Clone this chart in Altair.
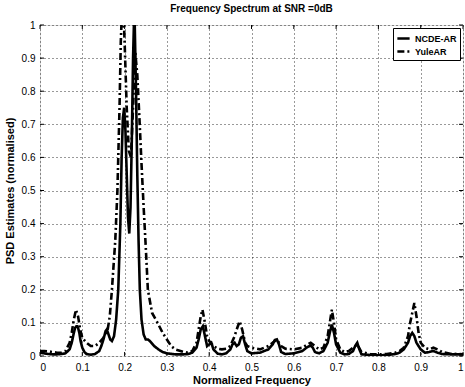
import altair as alt
import pandas as pd

# NCDE-AR (solid)
ncde_f = [0.0, 0.01, 0.02, 0.03, 0.04, 0.05, 0.06, 0.07, 0.075, 0.08, 0.083, 0.086, 0.088, 0.09, 0.093, 0.096, 0.1, 0.105, 0.11, 0.12, 0.13, 0.14, 0.145, 0.15, 0.155, 0.158, 0.162, 0.166, 0.17, 0.175, 0.18, 0.185, 0.19, 0.193, 0.196, 0.199, 0.202, 0.205, 0.208, 0.211, 0.214, 0.217, 0.22, 0.222, 0.224, 0.227, 0.23, 0.233, 0.236, 0.24, 0.245, 0.25, 0.255, 0.26, 0.27, 0.28, 0.29, 0.3, 0.32, 0.34, 0.35, 0.36, 0.37, 0.375, 0.38, 0.385, 0.39, 0.395, 0.4, 0.405, 0.41, 0.42, 0.43, 0.44, 0.45, 0.455, 0.46, 0.465, 0.47, 0.475, 0.48, 0.485, 0.49, 0.5, 0.52, 0.54, 0.55, 0.555, 0.56, 0.565, 0.57, 0.58, 0.6, 0.62, 0.63, 0.64, 0.645, 0.65, 0.66, 0.67, 0.68, 0.685, 0.69, 0.695, 0.7, 0.71, 0.72, 0.73, 0.74, 0.745, 0.75, 0.755, 0.76, 0.78, 0.8, 0.82, 0.84, 0.85, 0.86, 0.87, 0.875, 0.88, 0.885, 0.89, 0.9, 0.91, 0.92, 0.93, 0.94, 0.95, 0.97, 1.0]
ncde_v = [0.01, 0.008, 0.006, 0.005, 0.005, 0.006, 0.008, 0.02, 0.04, 0.07, 0.085, 0.09, 0.09, 0.085, 0.07, 0.045, 0.025, 0.012, 0.006, 0.004, 0.006, 0.015, 0.03, 0.05, 0.075, 0.08, 0.065, 0.05, 0.045, 0.06, 0.11, 0.2, 0.4, 0.6, 0.72, 0.75, 0.68, 0.55, 0.42, 0.37, 0.45, 0.65, 0.9, 1.0, 1.0, 0.8, 0.55, 0.35, 0.2, 0.11, 0.065, 0.05, 0.05, 0.045, 0.03, 0.02, 0.012, 0.008, 0.005, 0.005, 0.006, 0.01, 0.025, 0.05, 0.08, 0.09, 0.06, 0.03, 0.035, 0.04, 0.02, 0.007, 0.005, 0.008, 0.02, 0.035, 0.04, 0.03, 0.035, 0.055, 0.06, 0.035, 0.015, 0.008, 0.01, 0.02, 0.035, 0.048, 0.05, 0.035, 0.012, 0.006, 0.008, 0.015, 0.025, 0.032, 0.025, 0.012, 0.008, 0.015, 0.04, 0.07, 0.095, 0.07, 0.035, 0.01, 0.005, 0.006, 0.015, 0.03, 0.04, 0.02, 0.005, 0.003, 0.002, 0.003, 0.006, 0.01, 0.02, 0.04, 0.06, 0.07, 0.06, 0.04, 0.02, 0.01, 0.012, 0.015, 0.01, 0.006, 0.005, 0.005]

# YuleAR (dash-dot)
yule_f = [0.0, 0.01, 0.02, 0.03, 0.04, 0.05, 0.06, 0.07, 0.075, 0.08, 0.085, 0.09, 0.095, 0.1, 0.11, 0.12, 0.13, 0.14, 0.15, 0.16, 0.165, 0.17, 0.178, 0.183, 0.188, 0.191, 0.194, 0.197, 0.2, 0.205, 0.21, 0.215, 0.22, 0.225, 0.23, 0.235, 0.24, 0.245, 0.25, 0.255, 0.265, 0.278, 0.29, 0.3, 0.31, 0.32, 0.34, 0.35, 0.36, 0.37, 0.375, 0.38, 0.384, 0.39, 0.395, 0.4, 0.41, 0.42, 0.43, 0.44, 0.45, 0.46, 0.465, 0.472, 0.478, 0.485, 0.49, 0.5, 0.52, 0.54, 0.55, 0.56, 0.57, 0.58, 0.6, 0.62, 0.63, 0.64, 0.65, 0.66, 0.67, 0.68, 0.685, 0.69, 0.695, 0.7, 0.71, 0.72, 0.73, 0.74, 0.75, 0.76, 0.78, 0.8, 0.82, 0.84, 0.85, 0.86, 0.87, 0.875, 0.88, 0.885, 0.89, 0.895, 0.9, 0.91, 0.92, 0.93, 0.94, 0.95, 0.97, 1.0]
yule_v = [0.015, 0.015, 0.014, 0.012, 0.01, 0.01, 0.015, 0.04, 0.07, 0.11, 0.14, 0.12, 0.08, 0.055, 0.04, 0.03, 0.03, 0.04, 0.055, 0.08, 0.12, 0.2, 0.35, 0.5, 0.75, 0.95, 1.05, 1.05, 0.95, 0.75, 0.62, 0.6, 0.75, 0.92, 0.85, 0.72, 0.58, 0.45, 0.33, 0.2, 0.13, 0.1, 0.07, 0.05, 0.03, 0.02, 0.012, 0.01, 0.015, 0.04, 0.08, 0.12, 0.14, 0.1, 0.06, 0.045, 0.03, 0.022, 0.02, 0.022, 0.03, 0.06, 0.08, 0.105, 0.08, 0.04, 0.03, 0.025, 0.02, 0.03, 0.04, 0.05, 0.03, 0.022, 0.02, 0.025, 0.033, 0.04, 0.03, 0.02, 0.025, 0.06, 0.1, 0.14, 0.1, 0.05, 0.02, 0.012, 0.015, 0.025, 0.035, 0.012, 0.006, 0.005, 0.006, 0.01, 0.015, 0.025, 0.06, 0.1, 0.13, 0.16, 0.12, 0.07, 0.04, 0.025, 0.02, 0.025, 0.02, 0.012, 0.007, 0.005]

series_names = ["NCDE-AR", "YuleAR"]
x_ticks = [0, 0.1, 0.2, 0.3, 0.4, 0.5, 0.6, 0.7, 0.8, 0.9, 1.0]
y_ticks = [0, 0.1, 0.2, 0.3, 0.4, 0.5, 0.6, 0.7, 0.8, 0.9, 1.0]

W, H = 423, 331

df = pd.concat([
    pd.DataFrame({"f": ncde_f, "v": ncde_v, "s": series_names[0], "o": range(len(ncde_f))}),
    pd.DataFrame({"f": yule_f, "v": yule_v, "s": series_names[1], "o": range(len(yule_f))}),
])

xs = alt.Scale(domain=[0, 1], nice=False, zero=False)
ys = alt.Scale(domain=[0, 1], nice=False, zero=False)

xaxis = alt.Axis(values=x_ticks, format=".1~f", title="Normalized Frequency",
                 grid=True, gridDash=[1, 3], gridColor="black", gridOpacity=0.8,
                 ticks=False, domain=False, labelPadding=6, titlePadding=2,
                 labelOverlap=False)
yaxis = alt.Axis(values=y_ticks, format=".1~f", title="PSD Estimates (normalised)",
                 grid=True, gridDash=[1, 3], gridColor="black", gridOpacity=0.8,
                 ticks=False, domain=False, labelPadding=5, titlePadding=6,
                 labelOverlap=False)

lines = alt.Chart(df).mark_line(strokeWidth=2.6, clip=True).encode(
    x=alt.X("f:Q", scale=xs, axis=xaxis),
    y=alt.Y("v:Q", scale=ys, axis=yaxis),
    color=alt.Color("s:N", scale=alt.Scale(domain=series_names, range=["black", "black"]),
                    legend=alt.Legend(title=None, orient="top-right", offset=3,
                                      fillColor="white", strokeColor="black",
                                      padding=3, symbolType="stroke", symbolSize=150,
                                      symbolStrokeWidth=2.6, labelFontSize=9,
                                      labelFont="Liberation Sans", labelFontWeight="bold",
                                      rowPadding=0, labelOffset=4)),
    strokeDash=alt.StrokeDash("s:N", scale=alt.Scale(domain=series_names, range=[[1, 0], [7, 3, 2, 3]]),
                              legend=None),
    order="o:Q",
)

xt = pd.DataFrame({"t": x_ticks})
yt = pd.DataFrame({"t": y_ticks})
tick_bottom = alt.Chart(xt).mark_rule(color="black", strokeWidth=1).encode(
    x=alt.X("t:Q", scale=xs, axis=xaxis), y=alt.value(H), y2=alt.value(H - 4))
tick_top = alt.Chart(xt).mark_rule(color="black", strokeWidth=1).encode(
    x=alt.X("t:Q", scale=xs, axis=xaxis), y=alt.value(0), y2=alt.value(4))
tick_left = alt.Chart(yt).mark_rule(color="black", strokeWidth=1).encode(
    y=alt.Y("t:Q", scale=ys, axis=yaxis), x=alt.value(0), x2=alt.value(4))
tick_right = alt.Chart(yt).mark_rule(color="black", strokeWidth=1).encode(
    y=alt.Y("t:Q", scale=ys, axis=yaxis), x=alt.value(W), x2=alt.value(W - 4))

chart = alt.layer(lines, tick_bottom, tick_top, tick_left, tick_right).properties(
    width=W, height=H,
    title=alt.TitleParams("Frequency Spectrum at SNR =0dB", fontSize=10, font="Liberation Sans",
                          fontWeight="bold", offset=6),
    autosize=alt.AutoSizeParams(type="none"),
    padding={"left": 40, "top": 25, "right": 2, "bottom": 31},
).configure_view(stroke="black", strokeWidth=1.2).configure_axis(
    labelFont="Liberation Sans", labelFontSize=10, labelFontWeight="bold", labelColor="black",
    titleFont="Liberation Sans", titleFontSize=10, titleFontWeight="bold", titleColor="black",
).configure(background="white")

chart.save("out.html", embed_options={"renderer": "svg", "actions": False})
